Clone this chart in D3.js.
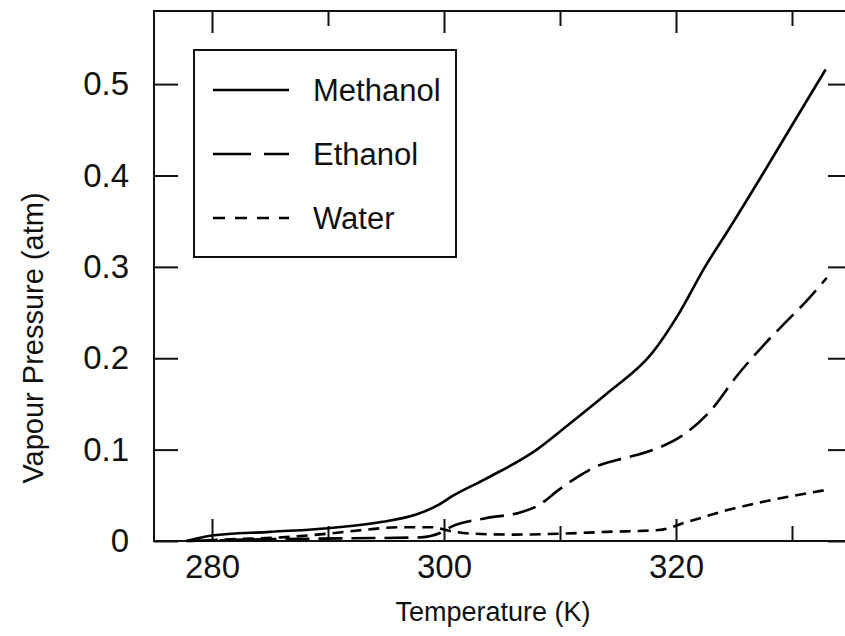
<!DOCTYPE html>
<html><head><meta charset="utf-8">
<script src="https://cdn.jsdelivr.net/npm/d3@7"></script>
<style>html,body{margin:0;padding:0;background:#fff;}svg{display:block;}</style>
</head><body>
<script>
// Data (Temperature K, Vapour Pressure atm)
const methanolT = [277.8, 280, 285, 290, 294.7, 297.6, 299.6, 300.7, 303.6, 308, 310.8, 314.2, 317.9, 320.3, 322.5, 324.5, 327.4, 330, 332.9];
const methanolP = [0, 0.006, 0.010, 0.014, 0.021, 0.029, 0.040, 0.049, 0.068, 0.100, 0.128, 0.163, 0.205, 0.25, 0.30, 0.34, 0.40, 0.455, 0.516];
const ethanolT = [277.8, 285, 292, 298, 299.7, 300.7, 303.6, 306.5, 308, 310, 311.5, 313.2, 315, 316.6, 318.5, 320.5, 322.8, 325.4, 327.6, 329.5, 331.2, 333];
const ethanolP = [0, 0.002, 0.003, 0.004, 0.009, 0.016, 0.025, 0.031, 0.038, 0.057, 0.07, 0.082, 0.089, 0.094, 0.102, 0.115, 0.14, 0.183, 0.215, 0.24, 0.262, 0.288];
const waterT = [278, 282, 286, 290, 293, 296, 299, 300.5, 302.5, 306, 310, 314, 318.5, 321, 324.8, 328.3, 333];
const waterP = [0, 0.002, 0.004, 0.008, 0.012, 0.015, 0.015, 0.011, 0.008, 0.007, 0.008, 0.010, 0.012, 0.021, 0.035, 0.045, 0.056];
const seriesNames = ["Methanol", "Ethanol", "Water"];
const xMajorTicks = [280, 300, 320];
const xMinorTicks = [290, 310, 330];
const yTicks = [0, 0.1, 0.2, 0.3, 0.4, 0.5];
const yTickLabels = ["0", "0.1", "0.2", "0.3", "0.4", "0.5"];

const W = 845, H = 636;
const L = 154, R = 850, T = 11, B = 541;
const font = "'Liberation Sans', Arial, sans-serif";

const svg = d3.select("body").append("svg").attr("width", W).attr("height", H);
const x = d3.scaleLinear().domain([275, 335]).range([L, R]);
const y = d3.scaleLinear().domain([0, 0.58]).range([B, T]);

const zip = (ts, ps) => ts.map((t, i) => ({t, p: ps[i]}));
const series = [
  {name: seriesNames[0], data: zip(methanolT, methanolP), dash: null},
  {name: seriesNames[1], data: zip(ethanolT, ethanolP), dash: "24,9"},
  {name: seriesNames[2], data: zip(waterT, waterP), dash: "11,7"}
];

const line = d3.line().x(d => x(d.t)).y(d => y(d.p)).curve(d3.curveMonotoneX);

const major = 22, minor = 15;
const gB = svg.append("g").attr("transform", `translate(0,${B})`)
  .call(d3.axisBottom(x).tickValues(xMajorTicks).tickSizeInner(-major).tickSizeOuter(0).tickPadding(14).tickFormat(d3.format("d")));
const gBm = svg.append("g").attr("transform", `translate(0,${B})`)
  .call(d3.axisBottom(x).tickValues(xMinorTicks).tickSizeInner(-minor).tickSizeOuter(0).tickFormat(""));
const gT = svg.append("g").attr("transform", `translate(0,${T})`)
  .call(d3.axisTop(x).tickValues(xMajorTicks).tickSizeInner(-major).tickSizeOuter(0).tickFormat(""));
const gTm = svg.append("g").attr("transform", `translate(0,${T})`)
  .call(d3.axisTop(x).tickValues(xMinorTicks).tickSizeInner(-minor).tickSizeOuter(0).tickFormat(""));
const gL = svg.append("g").attr("transform", `translate(${L},0)`)
  .call(d3.axisLeft(y).tickValues(yTicks).tickSizeInner(-24).tickSizeOuter(0).tickPadding(25).tickFormat((d, i) => yTickLabels[i]));
const gR = svg.append("g").attr("transform", `translate(${R},0)`)
  .call(d3.axisRight(y).tickValues(yTicks).tickSizeInner(-22).tickSizeOuter(0).tickFormat(""));

[gB, gBm, gT, gTm, gL, gR].forEach(g => {
  g.select(".domain").remove();
  g.selectAll("line").attr("stroke", "#111").attr("stroke-width", 2);
  g.selectAll("text").attr("font-family", font).attr("font-size", 33).attr("fill", "#111");
});

svg.append("rect").attr("x", L).attr("y", T).attr("width", R - L).attr("height", B - T)
  .attr("fill", "none").attr("stroke", "#111").attr("stroke-width", 2);

svg.append("g").selectAll("path").data(series).join("path")
  .attr("d", d => line(d.data))
  .attr("fill", "none").attr("stroke", "#000").attr("stroke-width", 2.6)
  .attr("stroke-dasharray", d => d.dash);

const lg = svg.append("g");
lg.append("rect").attr("x", 194).attr("y", 50).attr("width", 262).attr("height", 207)
  .attr("fill", "#fff").attr("stroke", "#111").attr("stroke-width", 2);
const rows = [90, 154, 218];
const legendDash = [null, "38,13", "12,10"];
series.forEach((s, i) => {
  lg.append("line").attr("x1", 213).attr("x2", 289).attr("y1", rows[i]).attr("y2", rows[i])
    .attr("stroke", "#000").attr("stroke-width", 2.6).attr("stroke-dasharray", legendDash[i]);
  lg.append("text").attr("x", 313).attr("y", rows[i]).attr("dy", "0.35em")
    .attr("font-family", font).attr("font-size", 31).attr("fill", "#111").text(s.name);
});

svg.append("text").attr("x", 493).attr("y", 621).attr("text-anchor", "middle")
  .attr("font-family", font).attr("font-size", 27).attr("fill", "#111").text("Temperature (K)");
svg.append("text").attr("transform", `translate(43,338) rotate(-90)`).attr("text-anchor", "middle")
  .attr("font-family", font).attr("font-size", 29).attr("fill", "#111").text("Vapour Pressure (atm)");
</script>
</body></html>
